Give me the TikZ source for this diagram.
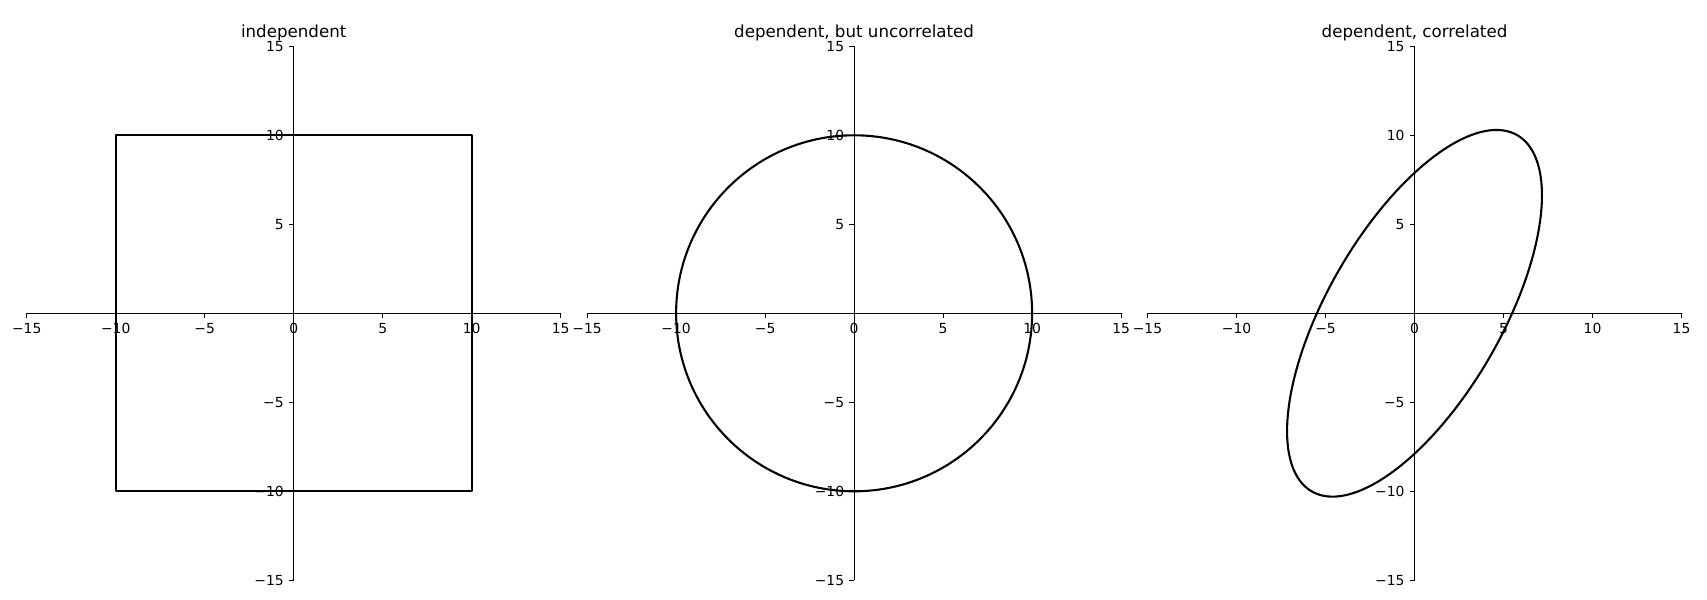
\documentclass[tikz,border=0pt]{standalone}
\usepackage{fontspec}
\setmainfont{DejaVu Sans}
\newcommand\ticklab[1]{\ifnum#1<0 −\number\numexpr0-(#1)\relax\else#1\fi}

\begin{document}
\begin{tikzpicture}[x=0.72pt, y=0.72pt,
    every node/.style={font=\fontsize{10}{12}\selectfont, inner sep=0pt},
    panel/.style={shift={({293.7+560.4*#1},285.7)}, x=12.816pt, y=12.816pt},
    spine/.style={line width=0.8pt},
    curve/.style={line width=1.5pt, line join=round},
    heading/.style={font=\fontsize{12}{14}\selectfont, anchor=base}]
  \useasboundingbox (0,0) rectangle (1707,599);

  % axes through the origin, ticks every 5
  \foreach \p/\ttl in {0/independent, 1/{dependent, but uncorrelated}, 2/{dependent, correlated}} {
    \begin{scope}[panel=\p]
      \draw[spine] (-15,0) -- (15,0);
      \draw[spine] (0,-15) -- (0,15);
      \foreach \i [count=\k] in {-15,-10,...,15} {
        \draw[spine] (\i,0) -- ++(0,-3.5pt);
        \node[anchor=north] (X\p\k) at ([yshift=-7pt]\i,0) {\ticklab{\i}};
      }
      \foreach \i [count=\k] in {-15,-10,-5,5,10,15} {
        \draw[spine] (0,\i) -- ++(-3.5pt,0);
        \node[anchor=east] (Y\p\k) at ([xshift=-7pt]0,\i) {\ticklab{\i}};
      }
      \node[heading] (T\p) at ([yshift=6pt]0,15) {\ttl};
    \end{scope}
  }

  % the three shapes
  \begin{scope}[panel=0]
    \draw[curve] (-10,-10) rectangle (10,10);
  \end{scope}
  \begin{scope}[panel=1]
    \draw[curve] (0,0) circle[radius=10];
  \end{scope}
  \begin{scope}[panel=2]
    \draw[curve] plot[domain=0:360, samples=240, smooth, variable=\t]
      ({7.16*cos(\t)}, {10.3*cos(\t-50)}) -- cycle;
  \end{scope}
\end{tikzpicture}
\end{document}
